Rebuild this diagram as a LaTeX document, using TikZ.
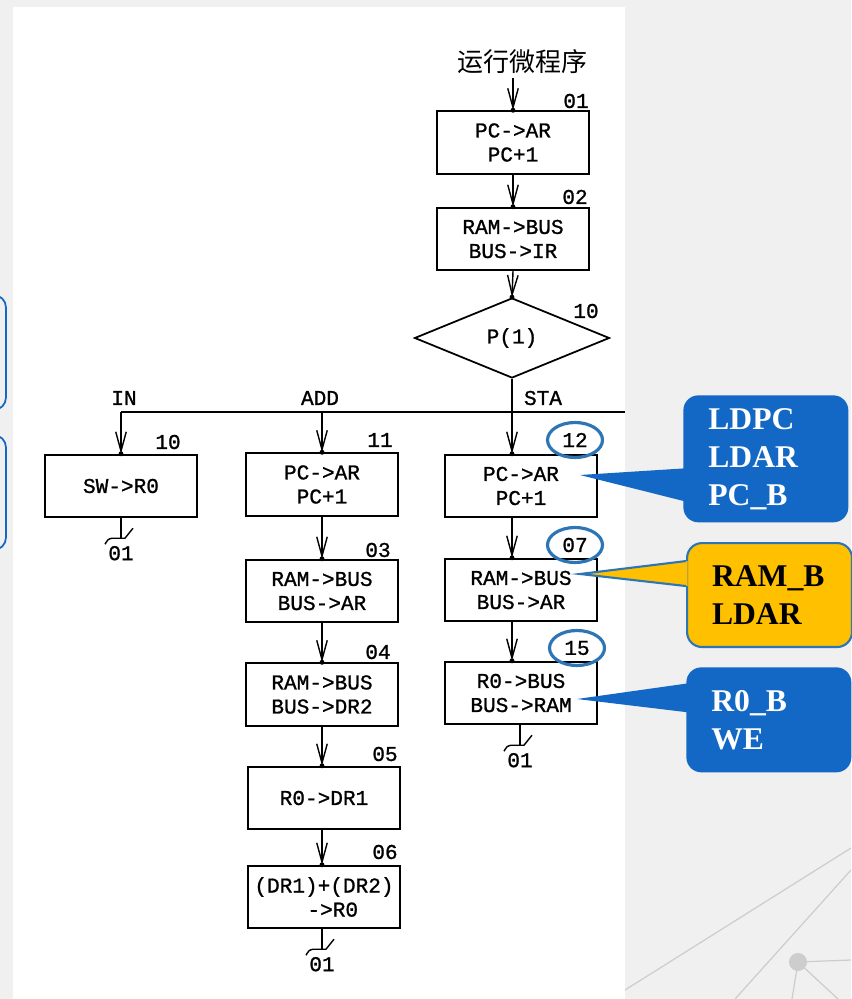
\documentclass[tikz,border=0pt]{standalone}
\usepackage{fontspec}
\setmainfont{Liberation Serif}
\setmonofont{Liberation Mono}
\newfontfamily\flowfont{Liberation Mono}[BoldFont={Liberation Mono}, BoldFeatures={FakeBold=1}]
\newfontfamily\cjk{Noto Sans CJK SC}
\usetikzlibrary{arrows.meta,shapes.geometric,decorations.markings,calc}
\definecolor{calloutblue}{RGB}{18,104,196}
\definecolor{calloutgold}{RGB}{255,192,0}
\definecolor{ringblue}{RGB}{46,117,182}
\definecolor{pagegray}{RGB}{240,240,240}
\definecolor{decogray}{RGB}{205,205,205}
\begin{document}
\begin{tikzpicture}[x=0.02cm, y=-0.02cm,
    wire/.style={line width=0.8pt},
    flow/.style={wire, -{Straight Barb[length=11pt,width=6pt,line width=0.8pt]},
      postaction={decorate}, decoration={markings, mark=at position 1 with {\fill (0,0) circle (1.4pt);}}},
    stepbox/.style={draw, line width=1.1pt, minimum width=3.04cm, minimum height=1.25cm,
      inner sep=1pt, align=center, font=\flowfont\bfseries\fontsize{12}{13.7}\selectfont},
    test/.style={draw, line width=1pt, diamond, aspect=2.4, minimum width=3.9cm, minimum height=1.6cm,
      inner sep=0pt, font=\flowfont\bfseries\fontsize{12}{13.7}\selectfont},
    num/.style={inner sep=1pt, font=\flowfont\bfseries\fontsize{12}{13.7}\selectfont},
    ring/.style={num, draw=ringblue, line width=1.8pt, ellipse, minimum width=1.1cm, minimum height=0.7cm},
    callout/.style={rounded corners=0.3cm, minimum width=3.3cm, text width=2.3cm, inner xsep=0.5cm,
      align=left, anchor=north west, font=\bfseries\fontsize{18}{21.6}\selectfont},
    tail/.pic={
      \draw[wire] (0,0) -- (0,20);
      \draw[wire] (-16,26) .. controls (-13,21) .. (-9,20) -- (4,20) -- (12,10);
      \node[num] (-lbl) at (0,35) {01};
    }]
  \useasboundingbox (0,0) rectangle (851,999);
  \fill[pagegray] (0,0) rectangle (851,999);
  % background decoration
  \draw[decogray, line width=0.7pt] (625,990) -- (851,848);
  \draw[decogray, line width=0.7pt] (735,999) -- (851,870);
  \draw[decogray, line width=0.7pt] (792,999) -- (798,962) -- (851,960);
  \draw[decogray, line width=0.7pt] (838,999) -- (798,962);
  \fill[decogray] (798,962) circle (0.18cm);
  % cut-off boxes at the left edge
  \begin{scope}
    \clip (0,0) rectangle (851,999);
    \draw[calloutblue, line width=1pt, rounded corners=0.25cm] (-60,295) rectangle (6,410);
    \draw[calloutblue, line width=1pt, rounded corners=0.25cm] (-60,435) rectangle (6,550);
  \end{scope}
  \fill[white] (13,7) rectangle (625,999);

  % fetch
  \node[font=\cjk\fontsize{14.8}{16}\selectfont, inner sep=2pt] (start) at (522,62) {运行微程序};
  \node[stepbox] (b01) at (513,142.5) {PC->AR\\PC+1};
  \node[stepbox] (b02) at (513,239) {RAM->BUS\\BUS->IR};
  \node[test] (dia) at (512,338) {P(1)};
  \node[num] (n01) at (576,101) {01};
  \node[num] (n02) at (575,197) {02};
  \node[num] (n10) at (586,311) {10};
  \draw[flow] (start.south -| b01.north) -- (b01.north);
  \draw[flow] (b01.south) -- (b02.north);
  \draw[flow] (b02.south) -- (dia.north);

  % branches
  \coordinate (busL) at (121,412);
  \coordinate (busR) at (625,412);
  \draw[wire] (busL) -- (busR);
  \node[num] (lin) at (124,398) {IN};
  \node[num] (ladd) at (320,398) {ADD};
  \node[num] (lsta) at (543,398) {STA};

  % IN
  \node[stepbox] (bIN) at (121,486) {SW->R0};
  \node[num] (nIN) at (168,442) {10};
  \draw[flow] (busL) -- (bIN.north);
  \pic (tIN) at (bIN.south) {tail};

  % ADD
  \node[stepbox] (b11) at (322,484.5) {PC->AR\\PC+1};
  \node[stepbox] (b03) at (322,591) {RAM->BUS\\BUS->AR};
  \node[stepbox] (b04) at (322,694.5) {RAM->BUS\\BUS->DR2};
  \node[stepbox] (b05) at (324,798) {R0->DR1};
  \node[stepbox] (b06) at (324,897) {(DR1)+(DR2)\\\hspace*{10pt}->R0};
  \node[num] (n11) at (380,440) {11};
  \node[num] (n03) at (378,550) {03};
  \node[num] (n04) at (378,652) {04};
  \node[num] (n05) at (385,754) {05};
  \node[num] (n06) at (385,852) {06};
  \draw[flow] (busL -| b11.north) -- (b11.north);
  \draw[flow] (b11.south) -- (b03.north);
  \draw[flow] (b03.south) -- (b04.north);
  \draw[flow] (b04.south) -- (b04.south |- b05.north);
  \draw[flow] (b04.south |- b05.south) -- (b04.south |- b06.north);
  \pic (t06) at ($(b06.south)+(-2,0)$) {tail};

  % STA
  \node[stepbox] (b12) at (521,486) {PC->AR\\PC+1};
  \node[stepbox] (b07) at (521,590) {RAM->BUS\\BUS->AR};
  \node[stepbox] (b15) at (521,693) {R0->BUS\\BUS->RAM};
  \node[ring] (n12) at (575,440) {12};
  \node[ring] (n07) at (575,545) {07};
  \node[ring] (n15) at (577,648) {15};
  \draw[flow] (dia.south) -- (dia.south |- b12.north);
  \draw[flow] (dia.south |- b12.south) -- (dia.south |- b07.north);
  \draw[flow] (dia.south |- b07.south) -- (dia.south |- b15.north);
  \pic (t15) at ($(b15.south)+(-1,0)$) {tail};

  % control signals
  \node[callout, fill=calloutblue, text=white, minimum height=2.54cm] (c12) at (683,395) {LDPC\\LDAR\\PC\_B};
  \node[callout, fill=calloutgold, draw=ringblue, line width=1.2pt, text=black, minimum height=2.08cm] (c07) at (686,542) {RAM\_B\\LDAR};
  \node[callout, fill=calloutblue, text=white, minimum height=2.1cm] (c15) at (686,667) {R0\_B\\WE};
  \coordinate (p12) at ($(b12.center)+(59,-11)$);
  \coordinate (p07) at ($(b07.center)+(59,-16)$);
  \coordinate (p15) at ($(b15.center)+(56,6)$);
  \fill[calloutblue] ($(c12.west)+(2,9.5)$) -- (p12) -- ($(c12.west)+(2,42.5)$) -- cycle;
  \fill[calloutgold] ($(c07.west)+(1.5,-34)$) -- (p07) -- ($(c07.west)+(1.5,-9)$) -- cycle;
  \draw[ringblue, line width=1.2pt] ($(c07.west)+(0,-34)$) -- (p07) -- ($(c07.west)+(0,-9)$);
  \fill[calloutblue] ($(c15.west)+(2,-36.5)$) -- (p15) -- ($(c15.west)+(2,-7.5)$) -- cycle;
\end{tikzpicture}
\end{document}
